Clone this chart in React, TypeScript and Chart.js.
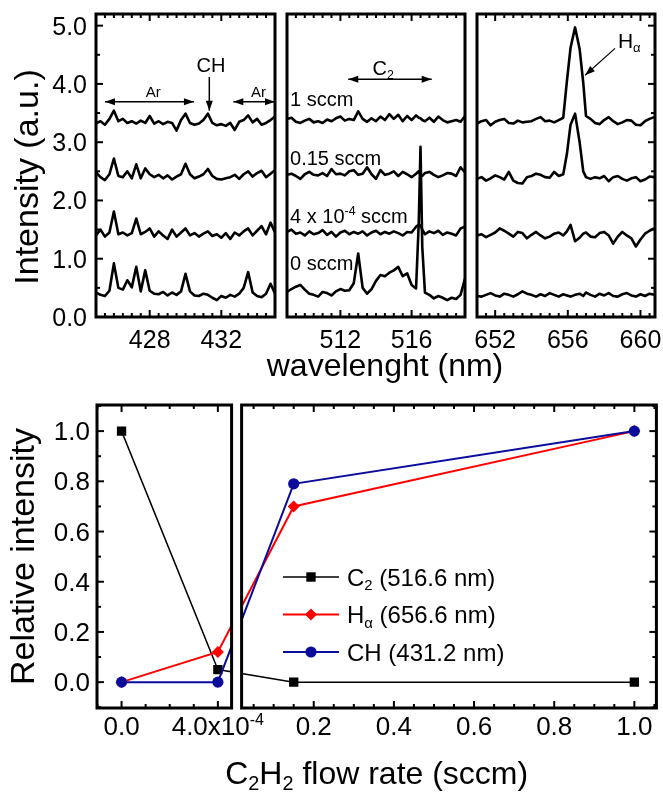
import React, { useEffect, useRef } from 'react';
import { Chart, LinearScale, registerables } from 'chart.js';

Chart.register(...registerables);

const W = 663;
const H = 793;
const FONT = '"Liberation Sans", Arial, Helvetica, sans-serif';

// ---------------- Top: emission spectra (offset traces) ----------------
const spectraYTicks = [0, 1, 2, 3, 4, 5];

// CH / Ar window
const wlCH = [425, 425.25, 425.5, 425.75, 426, 426.25, 426.5, 426.75, 427, 427.25, 427.5, 427.75, 428, 428.25, 428.5, 428.75, 429, 429.25, 429.5, 429.75, 430, 430.25, 430.5, 430.75, 431, 431.25, 431.5, 431.75, 432, 432.25, 432.5, 432.75, 433, 433.25, 433.5, 433.75, 434, 434.25, 434.5, 434.75, 435];
const chFlow1 = [3.32, 3.36, 3.30, 3.40, 3.54, 3.36, 3.40, 3.33, 3.36, 3.32, 3.37, 3.33, 3.45, 3.32, 3.36, 3.31, 3.35, 3.33, 3.20, 3.38, 3.49, 3.33, 3.30, 3.32, 3.38, 3.49, 3.33, 3.29, 3.31, 3.28, 3.33, 3.21, 3.35, 3.38, 3.46, 3.34, 3.40, 3.30, 3.33, 3.38, 3.44];
const chFlow015 = [2.48, 2.40, 2.35, 2.45, 2.72, 2.42, 2.40, 2.50, 2.38, 2.62, 2.38, 2.55, 2.45, 2.40, 2.44, 2.38, 2.43, 2.36, 2.41, 2.45, 2.63, 2.45, 2.38, 2.41, 2.45, 2.54, 2.42, 2.37, 2.36, 2.38, 2.40, 2.44, 2.37, 2.45, 2.50, 2.41, 2.47, 2.51, 2.40, 2.46, 2.52];
const chFlow4e4 = [1.40, 1.50, 1.38, 1.45, 1.81, 1.42, 1.45, 1.40, 1.44, 1.69, 1.42, 1.46, 1.52, 1.38, 1.47, 1.40, 1.34, 1.50, 1.38, 1.45, 1.52, 1.40, 1.44, 1.38, 1.43, 1.47, 1.39, 1.42, 1.36, 1.44, 1.34, 1.45, 1.40, 1.47, 1.52, 1.40, 1.48, 1.56, 1.42, 1.62, 1.45];
const chFlow0 = [0.42, 0.38, 0.36, 0.45, 0.92, 0.50, 0.47, 0.63, 0.51, 0.86, 0.44, 0.80, 0.45, 0.40, 0.39, 0.43, 0.37, 0.42, 0.38, 0.44, 0.74, 0.44, 0.37, 0.36, 0.40, 0.38, 0.33, 0.29, 0.36, 0.33, 0.38, 0.35, 0.40, 0.50, 0.77, 0.42, 0.36, 0.34, 0.40, 0.57, 0.40];
const chTicks = [428, 432];

// C2 window
const wlC2 = [509, 509.25, 509.5, 509.75, 510, 510.25, 510.5, 510.75, 511, 511.25, 511.5, 511.75, 512, 512.25, 512.5, 512.75, 513, 513.25, 513.5, 513.75, 514, 514.25, 514.5, 514.75, 515, 515.25, 515.5, 515.75, 516, 516.25, 516.4, 516.5, 516.6, 516.75, 517, 517.25, 517.5, 517.75, 518, 518.25, 518.5, 518.75, 519];
const c2Flow1 = [3.40, 3.42, 3.35, 3.33, 3.37, 3.40, 3.34, 3.36, 3.33, 3.39, 3.36, 3.41, 3.44, 3.37, 3.40, 3.38, 3.53, 3.40, 3.35, 3.41, 3.36, 3.44, 3.38, 3.48, 3.40, 3.47, 3.36, 3.45, 3.38, 3.46, 3.42, 3.41, 3.38, 3.36, 3.42, 3.35, 3.44, 3.38, 3.34, 3.36, 3.38, 3.35, 3.45];
const c2Flow015 = [2.44, 2.46, 2.42, 2.37, 2.45, 2.49, 2.44, 2.43, 2.47, 2.42, 2.54, 2.45, 2.46, 2.43, 2.50, 2.52, 2.44, 2.46, 2.57, 2.45, 2.37, 2.52, 2.44, 2.46, 2.50, 2.42, 2.49, 2.45, 2.40, 2.46, 2.50, 2.44, 2.42, 2.47, 2.49, 2.44, 2.40, 2.43, 2.47, 2.46, 2.42, 2.57, 2.48];
const c2Flow4e4 = [1.46, 1.50, 1.43, 1.45, 1.40, 1.47, 1.42, 1.44, 1.49, 1.41, 1.46, 1.38, 1.45, 1.48, 1.42, 1.46, 1.43, 1.47, 1.40, 1.45, 1.48, 1.42, 1.46, 1.43, 1.47, 1.44, 1.40, 1.46, 1.45, 1.55, 1.58, 1.57, 1.50, 1.42, 1.47, 1.44, 1.48, 1.41, 1.45, 1.43, 1.40, 1.52, 1.55];
const c2Flow0 = [0.43, 0.48, 0.52, 0.55, 0.47, 0.40, 0.38, 0.35, 0.43, 0.41, 0.37, 0.44, 0.48, 0.45, 0.46, 0.58, 1.09, 0.50, 0.40, 0.48, 0.62, 0.72, 0.70, 0.76, 0.80, 0.86, 0.70, 0.75, 0.55, 0.49, 1.60, 2.92, 1.20, 0.42, 0.38, 0.32, 0.36, 0.33, 0.29, 0.33, 0.31, 0.38, 0.66];
const c2Ticks = [512, 516];

// H-alpha window
const wlHa = [651, 651.25, 651.5, 651.75, 652, 652.25, 652.5, 652.75, 653, 653.25, 653.5, 653.75, 654, 654.25, 654.5, 654.75, 655, 655.25, 655.5, 655.75, 655.95, 656.15, 656.4, 656.65, 656.85, 657, 657.25, 657.5, 657.75, 658, 658.25, 658.5, 658.75, 659, 659.25, 659.5, 659.75, 660, 660.25, 660.5, 660.75];
const haFlow1 = [3.32, 3.36, 3.38, 3.29, 3.35, 3.38, 3.40, 3.33, 3.32, 3.37, 3.34, 3.35, 3.36, 3.40, 3.43, 3.36, 3.37, 3.34, 3.38, 3.42, 4.05, 4.62, 4.97, 4.60, 4.02, 3.45, 3.40, 3.33, 3.31, 3.38, 3.43, 3.36, 3.31, 3.34, 3.38, 3.37, 3.30, 3.29, 3.36, 3.40, 3.43];
const haFlow015 = [2.37, 2.40, 2.34, 2.38, 2.43, 2.40, 2.36, 2.49, 2.34, 2.30, 2.29, 2.40, 2.42, 2.46, 2.44, 2.40, 2.39, 2.49, 2.42, 2.45, 2.80, 3.30, 3.49, 3.00, 2.50, 2.40, 2.37, 2.40, 2.38, 2.42, 2.33, 2.40, 2.42, 2.37, 2.34, 2.38, 2.40, 2.33, 2.36, 2.41, 2.40];
const haFlow4e4 = [1.40, 1.42, 1.37, 1.41, 1.45, 1.52, 1.48, 1.43, 1.38, 1.46, 1.44, 1.35, 1.41, 1.46, 1.40, 1.35, 1.38, 1.43, 1.45, 1.40, 1.47, 1.58, 1.30, 1.36, 1.43, 1.45, 1.38, 1.37, 1.44, 1.46, 1.40, 1.26, 1.38, 1.46, 1.40, 1.35, 1.21, 1.33, 1.43, 1.48, 1.52];
const haFlow0 = [0.36, 0.35, 0.38, 0.41, 0.37, 0.35, 0.40, 0.38, 0.35, 0.39, 0.44, 0.40, 0.38, 0.35, 0.39, 0.36, 0.41, 0.38, 0.35, 0.39, 0.37, 0.35, 0.38, 0.40, 0.36, 0.42, 0.38, 0.35, 0.40, 0.37, 0.41, 0.36, 0.35, 0.39, 0.41, 0.37, 0.35, 0.39, 0.36, 0.40, 0.38];
const haTicks = [652, 656, 660];

// ---------------- Bottom: relative intensity vs flow ----------------
const flowRate = [0, 4e-4, 0.15, 1.0];
const c2Rel = [1.0, 0.05, 0.0, 0.0];
const haRel = [0.0, 0.12, 0.70, 1.0];
const chRel = [0.0, 0.0, 0.79, 1.0];
const relYTicks = [0, 0.2, 0.4, 0.6, 0.8, 1.0];
const flowTicksLeft = [0, 4e-4];
const flowTicksRight = [0.2, 0.4, 0.6, 0.8, 1.0];

const FLOW_LEFT_RANGE = [-1.02e-4, 4.57e-4];
const FLOW_RIGHT_RANGE = [0.02, 1.055];
const FLOW_BREAK = [0.2406, 0.2585];

class BrokenFlowScale extends LinearScale {
  static id = 'brokenFlow';
  static defaults = {};
  getPixelForValue(value: number) {
    if (value === null || value === undefined || isNaN(value)) return NaN;
    const [l0, l1] = FLOW_LEFT_RANGE;
    const [r0, r1] = FLOW_RIGHT_RANGE;
    const [f1, f2] = FLOW_BREAK;
    const dec = value <= (l1 + r0) / 2
      ? ((value - l0) / (l1 - l0)) * f1
      : f2 + ((value - r0) / (r1 - r0)) * (1 - f2);
    return (this as any).getPixelForDecimal(dec);
  }
}
Chart.register(BrokenFlowScale as any);

// ---------------- drawing helpers ----------------
type Part = { t: string; k?: 'sub' | 'sup' };
const P = (t: string, k?: 'sub' | 'sup'): Part => ({ t, k });

function partSize(size: number, p: Part) {
  return p.k ? size * 0.62 : size;
}
function richWidth(ctx: CanvasRenderingContext2D, parts: Part[], size: number) {
  let w = 0;
  for (const p of parts) {
    ctx.font = `${partSize(size, p)}px ${FONT}`;
    w += ctx.measureText(p.t).width;
  }
  return w;
}
function drawRich(ctx: CanvasRenderingContext2D, parts: Part[], x: number, y: number, size: number, align: 'left' | 'center' | 'right' = 'left') {
  const w = richWidth(ctx, parts, size);
  let cx = align === 'left' ? x : align === 'center' ? x - w / 2 : x - w;
  ctx.textAlign = 'left';
  ctx.textBaseline = 'alphabetic';
  for (const p of parts) {
    const s = partSize(size, p);
    ctx.font = `${s}px ${FONT}`;
    const dy = p.k === 'sub' ? size * 0.2 : p.k === 'sup' ? -size * 0.4 : 0;
    ctx.fillText(p.t, cx, y + dy);
    cx += ctx.measureText(p.t).width;
  }
}
function drawRotated(ctx: CanvasRenderingContext2D, parts: Part[], x: number, y: number, size: number) {
  ctx.save();
  ctx.translate(x, y);
  ctx.rotate(-Math.PI / 2);
  drawRich(ctx, parts, 0, 0, size, 'center');
  ctx.restore();
}
function line(ctx: CanvasRenderingContext2D, x1: number, y1: number, x2: number, y2: number) {
  ctx.beginPath();
  ctx.moveTo(x1, y1);
  ctx.lineTo(x2, y2);
  ctx.stroke();
}
function head(ctx: CanvasRenderingContext2D, x: number, y: number, ang: number, len = 10, half = 3.5) {
  const c = Math.cos(ang), s = Math.sin(ang);
  ctx.beginPath();
  ctx.moveTo(x, y);
  ctx.lineTo(x - len * c + half * s, y - len * s - half * c);
  ctx.lineTo(x - len * c - half * s, y - len * s + half * c);
  ctx.closePath();
  ctx.fill();
}
function arrow(ctx: CanvasRenderingContext2D, x1: number, y1: number, x2: number, y2: number, both = false) {
  const ang = Math.atan2(y2 - y1, x2 - x1);
  line(ctx, x1, y1, x2, y2);
  head(ctx, x2, y2, ang);
  if (both) head(ctx, x1, y1, ang + Math.PI);
}
function eachTick(min: number, max: number, step: number, majors: number[], fn: (v: number, major: boolean) => void) {
  const k0 = Math.ceil(min / step - 1e-6);
  const k1 = Math.floor(max / step + 1e-6);
  for (let k = k0; k <= k1; k++) {
    const v = +(k * step).toPrecision(12);
    const major = majors.some((m) => Math.abs(m - v) < step * 1e-3);
    fn(v, major);
  }
}

// ---------------- spectrum panels ----------------
type Box = { l: number; t: number; r: number; b: number };
interface PanelCfg {
  x: number[];
  series: number[][];
  xMin: number;
  xMax: number;
  box: Box;
  xMajor: number[];
  leftY: boolean;
  rightY: boolean;
  decorate?: (ctx: CanvasRenderingContext2D, xs: any, ys: any, a: any) => void;
}
const Y_MIN = 0;
const Y_MAX = 5.2;

function makeSpectrum(canvas: HTMLCanvasElement, cfg: PanelCfg) {
  const datasets = cfg.series.map((s) => ({
    data: cfg.x.map((xv, i) => ({ x: xv, y: s[i] })),
    borderColor: '#000',
    borderWidth: 2.6,
    borderJoinStyle: 'round' as const,
    pointRadius: 0,
    tension: 0,
    fill: false,
  }));
  return new Chart(canvas, {
    type: 'line',
    data: { datasets },
    options: {
      animation: false,
      responsive: false,
      devicePixelRatio: 1,
      events: [],
      layout: { padding: { left: cfg.box.l, top: cfg.box.t, right: W - cfg.box.r, bottom: H - cfg.box.b } },
      plugins: { legend: { display: false }, tooltip: { enabled: false }, title: { display: false } },
      scales: {
        x: { type: 'linear', min: cfg.xMin, max: cfg.xMax, display: false },
        y: { type: 'linear', min: Y_MIN, max: Y_MAX, display: false },
      },
    },
    plugins: [
      {
        id: 'spectrumDecor',
        afterDraw(chart: any) {
          const ctx: CanvasRenderingContext2D = chart.ctx;
          const a = chart.chartArea;
          const xs = chart.scales.x;
          const ys = chart.scales.y;
          ctx.save();
          ctx.strokeStyle = '#000';
          ctx.fillStyle = '#000';
          ctx.lineWidth = 2;
          eachTick(cfg.xMin, cfg.xMax, 0.5, cfg.xMajor, (v, major) => {
            const p = xs.getPixelForValue(v);
            const len = major ? 7 : 4;
            line(ctx, p, a.bottom, p, a.bottom - len);
            line(ctx, p, a.top, p, a.top + len);
          });
          eachTick(Y_MIN, Y_MAX, 0.5, spectraYTicks, (v, major) => {
            const p = ys.getPixelForValue(v);
            const len = major ? 7 : 4;
            if (cfg.leftY) line(ctx, a.left, p, a.left + len, p);
            if (cfg.rightY) line(ctx, a.right, p, a.right - len, p);
          });
          ctx.lineWidth = 3;
          ctx.strokeRect(a.left, a.top, a.right - a.left, a.bottom - a.top);
          // tick labels
          ctx.font = `25px ${FONT}`;
          ctx.textAlign = 'center';
          ctx.textBaseline = 'alphabetic';
          for (const v of cfg.xMajor) ctx.fillText(String(v), xs.getPixelForValue(v), a.bottom + 31);
          if (cfg.leftY) {
            ctx.textAlign = 'right';
            for (const v of spectraYTicks) ctx.fillText(v.toFixed(1), a.left - 9, ys.getPixelForValue(v) + 9);
          }
          if (cfg.decorate) cfg.decorate(ctx, xs, ys, a);
          ctx.restore();
        },
      },
    ],
  } as any);
}

const panelCH: PanelCfg = {
  x: wlCH,
  series: [chFlow1, chFlow015, chFlow4e4, chFlow0],
  xMin: 425,
  xMax: 435,
  box: { l: 96, t: 14, r: 275, b: 317 },
  xMajor: chTicks,
  leftY: true,
  rightY: false,
  decorate(ctx, xs, ys) {
    ctx.lineWidth = 1.5;
    const yA = ys.getPixelForValue(3.695);
    arrow(ctx, xs.getPixelForValue(425.5), yA, xs.getPixelForValue(430.47), yA, true);
    arrow(ctx, xs.getPixelForValue(432.67), yA, xs.getPixelForValue(435.0), yA, true);
    drawRich(ctx, [P('Ar')], xs.getPixelForValue(428.2), ys.getPixelForValue(3.78), 15, 'center');
    drawRich(ctx, [P('Ar')], xs.getPixelForValue(434.08), ys.getPixelForValue(3.78), 15, 'center');
    drawRich(ctx, [P('CH')], xs.getPixelForValue(431.42), ys.getPixelForValue(4.2), 20, 'center');
    arrow(ctx, xs.getPixelForValue(431.33), ys.getPixelForValue(4.12), xs.getPixelForValue(431.33), ys.getPixelForValue(3.54));
    // axis titles for the spectra row
    drawRotated(ctx, [P('Intensity (a.u.)')], 38, 177, 34);
    drawRich(ctx, [P('wavelenght (nm)')], 385, 376, 32, 'center');
  },
};

const panelC2: PanelCfg = {
  x: wlC2,
  series: [c2Flow1, c2Flow015, c2Flow4e4, c2Flow0],
  xMin: 509,
  xMax: 519,
  box: { l: 287, t: 14, r: 465, b: 317 },
  xMajor: c2Ticks,
  leftY: false,
  rightY: false,
  decorate(ctx, xs, ys) {
    ctx.lineWidth = 1.5;
    const yA = ys.getPixelForValue(4.08);
    arrow(ctx, xs.getPixelForValue(512.44), yA, xs.getPixelForValue(517.13), yA, true);
    drawRich(ctx, [P('C'), P('2', 'sub')], xs.getPixelForValue(514.4), ys.getPixelForValue(4.15), 20, 'center');
    const lx = xs.getPixelForValue(509.17);
    drawRich(ctx, [P('1 sccm')], lx, ys.getPixelForValue(3.62), 20, 'left');
    drawRich(ctx, [P('0.15 sccm')], lx, ys.getPixelForValue(2.61), 20, 'left');
    drawRich(ctx, [P('4 x 10'), P('-4', 'sup'), P(' sccm')], lx, ys.getPixelForValue(1.61), 20, 'left');
    drawRich(ctx, [P('0 sccm')], lx, ys.getPixelForValue(0.81), 20, 'left');
  },
};

const panelHa: PanelCfg = {
  x: wlHa,
  series: [haFlow1, haFlow015, haFlow4e4, haFlow0],
  xMin: 651,
  xMax: 660.8,
  box: { l: 477, t: 14, r: 655, b: 317 },
  xMajor: haTicks,
  leftY: false,
  rightY: true,
  decorate(ctx, xs, ys) {
    ctx.lineWidth = 1.2;
    arrow(ctx, xs.getPixelForValue(658.6), ys.getPixelForValue(4.61), xs.getPixelForValue(656.95), ys.getPixelForValue(4.15));
    drawRich(ctx, [P('H'), P('α', 'sub')], xs.getPixelForValue(658.76), ys.getPixelForValue(4.62), 21, 'left');
  },
};

// ---------------- relative intensity chart ----------------
const REL_MIN = -0.103;
const REL_MAX = 1.104;
const BLUE = '#0b0b9c';
const RED = '#ff0000';

function makeRelative(canvas: HTMLCanvasElement) {
  const mk = (ys: number[]) => flowRate.map((x, i) => ({ x, y: ys[i] }));
  return new Chart(canvas, {
    type: 'line',
    data: {
      datasets: [
        { data: mk(c2Rel), borderColor: '#000', backgroundColor: '#000', borderWidth: 1.5, pointStyle: 'rect', pointRadius: 6.6, pointBorderWidth: 0, order: 2, tension: 0 },
        { data: mk(haRel), borderColor: RED, backgroundColor: RED, borderWidth: 2, pointStyle: 'rectRot', pointRadius: 6, pointBorderWidth: 0, order: 1, tension: 0 },
        { data: mk(chRel), borderColor: BLUE, backgroundColor: BLUE, borderWidth: 2, pointStyle: 'circle', pointRadius: 5.6, pointBorderWidth: 0, order: 0, tension: 0 },
      ],
    },
    options: {
      animation: false,
      responsive: false,
      devicePixelRatio: 1,
      events: [],
      layout: { padding: { left: 97, top: 405, right: W - 658, bottom: H - 708 } },
      plugins: { legend: { display: false }, tooltip: { enabled: false }, title: { display: false } },
      scales: {
        x: { type: 'brokenFlow', min: FLOW_LEFT_RANGE[0], max: FLOW_RIGHT_RANGE[1], display: false },
        y: { type: 'linear', min: REL_MIN, max: REL_MAX, display: false },
      },
    },
    plugins: [
      {
        id: 'relDecor',
        afterDatasetsDraw(chart: any) {
          const ctx: CanvasRenderingContext2D = chart.ctx;
          const a = chart.chartArea;
          const xs = chart.scales.x;
          const ys = chart.scales.y;
          const xL1 = xs.getPixelForValue(FLOW_LEFT_RANGE[1]);
          const xR0 = xs.getPixelForValue(FLOW_RIGHT_RANGE[0]);
          ctx.save();
          // gap of the broken axis
          ctx.fillStyle = '#fff';
          ctx.fillRect(xL1, a.top - 4, xR0 - xL1, a.bottom - a.top + 8);
          ctx.strokeStyle = '#000';
          ctx.fillStyle = '#000';
          ctx.lineWidth = 2;
          eachTick(FLOW_LEFT_RANGE[0], FLOW_LEFT_RANGE[1], 1e-4, flowTicksLeft, (v, major) => {
            const p = xs.getPixelForValue(v);
            const len = major ? 7 : 4;
            line(ctx, p, a.bottom, p, a.bottom - len);
            line(ctx, p, a.top, p, a.top + len);
          });
          eachTick(FLOW_RIGHT_RANGE[0], FLOW_RIGHT_RANGE[1], 0.05, flowTicksRight, (v, major) => {
            const p = xs.getPixelForValue(v);
            const len = major ? 7 : 4;
            line(ctx, p, a.bottom, p, a.bottom - len);
            line(ctx, p, a.top, p, a.top + len);
          });
          eachTick(REL_MIN, REL_MAX, 0.1, relYTicks, (v, major) => {
            const p = ys.getPixelForValue(v);
            const len = major ? 7 : 4;
            line(ctx, a.left, p, a.left + len, p);
            line(ctx, a.right, p, a.right - len, p);
          });
          ctx.lineWidth = 3;
          ctx.strokeRect(a.left, a.top, xL1 - a.left, a.bottom - a.top);
          ctx.strokeRect(xR0, a.top, a.right - xR0, a.bottom - a.top);

          // tick labels
          ctx.font = `26px ${FONT}`;
          ctx.textAlign = 'right';
          ctx.textBaseline = 'alphabetic';
          for (const v of relYTicks) ctx.fillText(v.toFixed(1), a.left - 7, ys.getPixelForValue(v) + 9);
          const by = a.bottom + 27;
          drawRich(ctx, [P(flowTicksLeft[0].toFixed(1))], xs.getPixelForValue(flowTicksLeft[0]), by, 26, 'center');
          drawRich(ctx, [P('4.0x10'), P('-4', 'sup')], xs.getPixelForValue(flowTicksLeft[1]), by, 26, 'center');
          for (const v of flowTicksRight) drawRich(ctx, [P(v.toFixed(1))], xs.getPixelForValue(v), by, 26, 'center');

          // legend
          const items: { parts: Part[]; color: string; shape: string }[] = [
            { parts: [P('C'), P('2', 'sub'), P(' (516.6 nm)')], color: '#000', shape: 'rect' },
            { parts: [P('H'), P('α', 'sub'), P(' (656.6 nm)')], color: RED, shape: 'diamond' },
            { parts: [P('CH (431.2 nm)')], color: BLUE, shape: 'circle' },
          ];
          const lx0 = a.left + 186;
          const lx1 = a.left + 242;
          const mx = (lx0 + lx1) / 2;
          items.forEach((it, i) => {
            const yy = a.top + 172 + i * 37.5;
            ctx.strokeStyle = it.color;
            ctx.fillStyle = it.color;
            ctx.lineWidth = it.shape === 'rect' ? 1.5 : 2;
            line(ctx, lx0, yy, lx1, yy);
            ctx.beginPath();
            if (it.shape === 'rect') ctx.rect(mx - 4.7, yy - 4.7, 9.4, 9.4);
            else if (it.shape === 'diamond') {
              ctx.moveTo(mx, yy - 6);
              ctx.lineTo(mx + 6, yy);
              ctx.lineTo(mx, yy + 6);
              ctx.lineTo(mx - 6, yy);
              ctx.closePath();
            } else ctx.arc(mx, yy, 5.6, 0, Math.PI * 2);
            ctx.fill();
            ctx.fillStyle = '#000';
            drawRich(ctx, it.parts, a.left + 250, yy + 8.5, 24, 'left');
          });

          // axis titles
          ctx.fillStyle = '#000';
          drawRotated(ctx, [P('Relative intensity')], 34, (a.top + a.bottom) / 2, 34);
          drawRich(ctx, [P('C'), P('2', 'sub'), P('H'), P('2', 'sub'), P(' flow rate (sccm)')], (a.left + a.right) / 2, 784, 32, 'center');
          ctx.restore();
        },
      },
    ],
  } as any);
}

export default function App() {
  const r1 = useRef<HTMLCanvasElement>(null);
  const r2 = useRef<HTMLCanvasElement>(null);
  const r3 = useRef<HTMLCanvasElement>(null);
  const r4 = useRef<HTMLCanvasElement>(null);

  useEffect(() => {
    const charts = [
      makeSpectrum(r1.current!, panelCH),
      makeSpectrum(r2.current!, panelC2),
      makeSpectrum(r3.current!, panelHa),
      makeRelative(r4.current!),
    ];
    return () => charts.forEach((c) => c.destroy());
  }, []);

  const cs: React.CSSProperties = { position: 'absolute', left: 0, top: 0, width: W, height: H };
  return (
    <div style={{ position: 'absolute', left: 0, top: 0, width: W, height: H, background: '#fff', overflow: 'hidden' }}>
      <canvas ref={r1} width={W} height={H} style={cs} />
      <canvas ref={r2} width={W} height={H} style={cs} />
      <canvas ref={r3} width={W} height={H} style={cs} />
      <canvas ref={r4} width={W} height={H} style={cs} />
    </div>
  );
}
